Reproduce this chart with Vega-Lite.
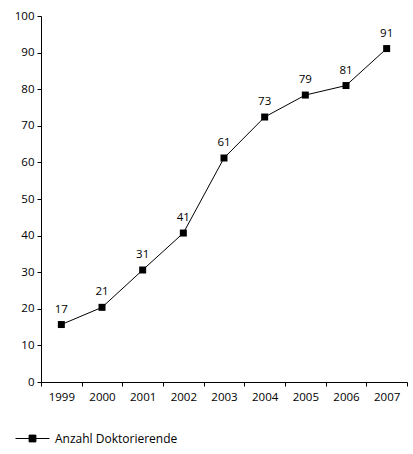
{
  "$schema": "https://vega.github.io/schema/vega-lite/v6.json",
  "width": 366,
  "height": 366,
  "autosize": {"type": "none"},
  "padding": {"left": 41, "top": 16, "right": 6, "bottom": 72},
  "background": "white",
  "config": {"view": {"stroke": null}, "font": "Open Sans"},
  "data": {
    "values": [
      {"year": "1999", "value": 15.7, "label": "17"},
      {"year": "2000", "value": 20.4, "label": "21"},
      {"year": "2001", "value": 30.6, "label": "31"},
      {"year": "2002", "value": 40.7, "label": "41"},
      {"year": "2003", "value": 61.2, "label": "61"},
      {"year": "2004", "value": 72.4, "label": "73"},
      {"year": "2005", "value": 78.4, "label": "79"},
      {"year": "2006", "value": 81, "label": "81"},
      {"year": "2007", "value": 91.1, "label": "91"}
    ]
  },
  "encoding": {
    "x": {
      "field": "year",
      "type": "ordinal",
      "scale": {"paddingInner": 0, "paddingOuter": 0},
      "axis": {
        "title": null,
        "labelAngle": 0,
        "tickBand": "extent",
        "domainColor": "black",
        "tickColor": "black",
        "tickSize": 4,
        "labelPadding": 5,
        "labelFontSize": 11.5,
        "labelColor": "black"
      }
    },
    "y": {
      "field": "value",
      "type": "quantitative",
      "scale": {"domain": [0, 100], "nice": false},
      "axis": {
        "title": null,
        "values": [0, 10, 20, 30, 40, 50, 60, 70, 80, 90, 100],
        "grid": false,
        "domainColor": "black",
        "tickColor": "black",
        "tickSize": 4,
        "labelPadding": 3,
        "labelFontSize": 11.5,
        "labelColor": "black"
      }
    }
  },
  "layer": [
    {
      "mark": {"type": "line", "strokeWidth": 1},
      "encoding": {
        "color": {
          "datum": "Anzahl Doktorierende",
          "type": "nominal",
          "scale": {"range": ["black"]},
          "legend": {
            "orient": "none",
            "legendX": -26,
            "legendY": 405,
            "title": null,
            "padding": 0,
            "symbolType": "M-1,0H1M-0.2,-0.2H0.2V0.2H-0.2Z",
            "symbolSize": 1156,
            "labelFontSize": 12,
            "labelColor": "black",
            "labelOffset": 5,
            "encode": {
              "symbols": {
                "update": {
                  "fill": {"value": "black"},
                  "stroke": {"value": "black"},
                  "strokeWidth": {"value": 1},
                  "opacity": {"value": 1}
                }
              }
            }
          }
        }
      }
    },
    {
      "mark": {"type": "point", "shape": "square", "filled": true, "size": 49, "color": "black", "opacity": 1}
    },
    {
      "mark": {"type": "text", "dy": -15, "fontSize": 11.5, "color": "black"},
      "encoding": {"text": {"field": "label"}}
    }
  ]
}
